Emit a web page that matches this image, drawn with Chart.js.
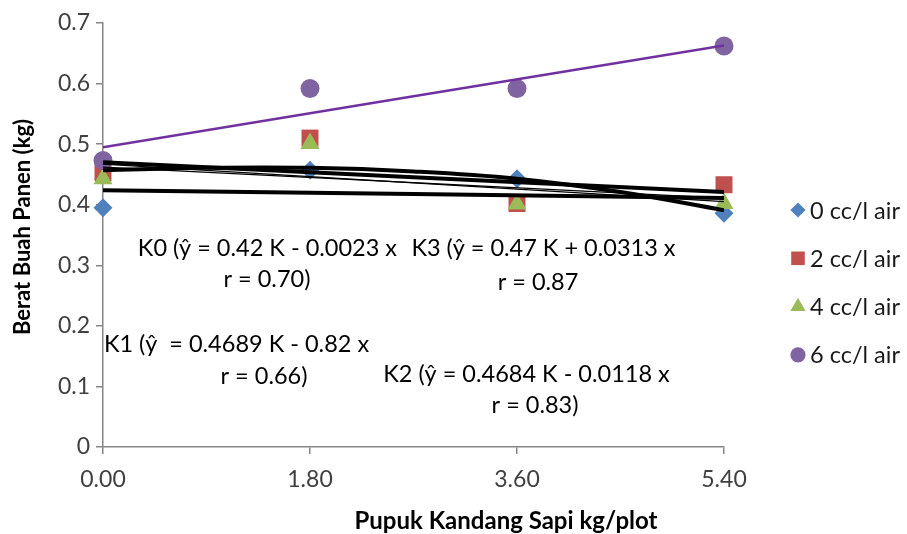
<!DOCTYPE html>
<html>
<head>
<meta charset="utf-8">
<script src="https://cdn.jsdelivr.net/npm/chart.js@4"></script>
<style>
  body { margin: 0; background: #fff; }
  #wrap { width: 907px; height: 534px; }
</style>
</head>
<body>
<div id="wrap"><canvas id="chart" width="907" height="534"></canvas></div>
<script>
const FONT = "Lato, 'Open Sans', sans-serif";

// x: pupuk kandang (kg/plot)
const xValues = [0, 1.8, 3.6, 5.4];
const xTickLabels = ["0.00", "1.80", "3.60", "5.40"];
const yTickLabels = ["0", "0.1", "0.2", "0.3", "0.4", "0.5", "0.6", "0.7"];

const seriesNames = ["0 cc/l air", "2 cc/l air", "4 cc/l air", "6 cc/l air"];
const dose0 = [0.395, 0.457, 0.443, 0.386];
const dose2 = [0.453, 0.510, 0.402, 0.433];
const dose4 = [0.443, 0.501, 0.401, 0.402];
const dose6 = [0.473, 0.592, 0.592, 0.662];

// garis trend
const trendX = [0, 5.4];
const trendK3 = [0.495, 0.663];
const trendA = [0.470, 0.421];
const trendK0 = [0.424, 0.411];
const trendK2 = [0.467, 0.405];
const trendThin = [0.462, 0.411];
const curveX = [0, 0.9, 1.8, 2.7, 3.6, 4.5, 5.4];
const curveY = [0.457, 0.461, 0.461, 0.455, 0.443, 0.421, 0.391];

const noteLines = [
  "K0 (\u0177 = 0.42 K - 0.0023 x",
  "r = 0.70)",
  "K3 (\u0177 = 0.47 K + 0.0313 x",
  "r = 0.87",
  "K1 (\u0177  = 0.4689 K - 0.82 x",
  "r = 0.66)",
  "K2 (\u0177 = 0.4684 K - 0.0118 x",
  "r = 0.83)",
];
const noteX = [1.43, 1.426, 3.83, 3.783, 1.161, 1.40, 3.683, 3.757];
const noteY = [0.328, 0.276, 0.328, 0.272, 0.170, 0.117, 0.119, 0.069];

const pts = (xs, ys) => xs.map((x, i) => ({ x, y: ys[i] }));

const markers = [
  { style: "rectRot", color: "#4F81BD", r: 9.5 },
  { style: "rect", color: "#C0504D", r: 12 },
  { style: "triangle", color: "#9BBB59", r: 11 },
  { style: "circle", color: "#8064A2", r: 9.5 },
];

const markerSets = [dose0, dose2, dose4, dose6].map((vals, i) => ({
  label: seriesNames[i],
  data: pts(xValues, vals),
  pointStyle: markers[i].style,
  pointRadius: markers[i].r,
  pointHoverRadius: markers[i].r,
  backgroundColor: markers[i].color,
  borderWidth: 0,
  showLine: false,
  clip: false,
  order: 5 - i,
}));

const line = (label, data, color, width) => ({
  label,
  data,
  showLine: true,
  borderColor: color,
  borderWidth: width,
  pointRadius: 0,
  fill: false,
  tension: 0.4,
  order: 0,
});

const trendSets = [
  line("K3", pts(trendX, trendK3), "#7030A0", 2.5),
  line("A", pts(trendX, trendA), "#000", 4),
  line("K0", pts(trendX, trendK0), "#000", 4),
  line("B", pts(curveX, curveY), "#000", 4),
  line("K2", pts(trendX, trendK2), "#000", 1.2),
  line("thin", pts(trendX, trendThin), "#000", 1.2),
];

const extras = {
  id: "extras",
  afterDraw(chart) {
    const { ctx, scales } = chart;
    const xs = scales.x, ys = scales.y;
    ctx.save();
    // teks persamaan
    ctx.fillStyle = "#000";
    ctx.font = "23.5px " + FONT;
    ctx.textAlign = "center";
    ctx.textBaseline = "middle";
    noteLines.forEach((t, i) => {
      ctx.fillText(t, xs.getPixelForValue(noteX[i]), ys.getPixelForValue(noteY[i]));
    });
    // legenda
    ctx.font = "23.5px " + FONT;
    ctx.textAlign = "left";
    seriesNames.forEach((name, i) => {
      const y = 210 + i * 48.3;
      ctx.fillStyle = markers[i].color;
      Chart.helpers.drawPoint(ctx, { pointStyle: markers[i].style, radius: markers[i].r * 0.8, rotation: 0, borderWidth: 0 }, 798, y);
      ctx.fillStyle = "#1a1a1a";
      ctx.fillText(name, 810, y + 1);
    });
    // judul sumbu
    ctx.fillStyle = "#000";
    ctx.textAlign = "center";
    ctx.font = "bold 24px " + FONT;
    ctx.fillText("Pupuk Kandang Sapi kg/plot", 506, 521);
    ctx.font = "bold 22px " + FONT;
    ctx.translate(23, 227);
    ctx.rotate(-Math.PI / 2);
    ctx.fillText("Berat Buah Panen (kg)", 0, 0);
    ctx.restore();
  },
};

const axisColor = "#868686";

new Chart(document.getElementById("chart"), {
  type: "scatter",
  data: { datasets: [...trendSets, ...markerSets] },
  options: {
    responsive: false,
    animation: false,
    layout: { padding: { top: 23, right: 183, left: 0, bottom: 0 } },
    plugins: {
      legend: { display: false },
      tooltip: { enabled: false },
    },
    scales: {
      x: {
        type: "linear",
        min: 0,
        max: 5.4,
        afterBuildTicks(scale) {
          scale.ticks = xValues.map((v) => ({ value: v }));
        },
        afterFit(scale) {
          scale.height = 87;
        },
        border: { color: axisColor, width: 1.5 },
        grid: { drawOnChartArea: false, color: axisColor, tickLength: 7, lineWidth: 1.5 },
        ticks: {
          color: "#404040",
          font: { family: FONT, size: 23 },
          padding: 12,
          maxRotation: 0,
          callback: (v, i) => xTickLabels[i],
        },
      },
      y: {
        min: 0,
        max: 0.7,
        ticks: {
          stepSize: 0.1,
          color: "#404040",
          font: { family: FONT, size: 23 },
          padding: 6,
          callback: (v, i) => yTickLabels[i],
        },
        afterFit(scale) {
          scale.width = 103;
        },
        border: { color: axisColor, width: 1.5 },
        grid: { drawOnChartArea: false, color: axisColor, tickLength: 7, lineWidth: 1.5 },
      },
    },
  },
  plugins: [extras],
});
</script>
</body>
</html>
